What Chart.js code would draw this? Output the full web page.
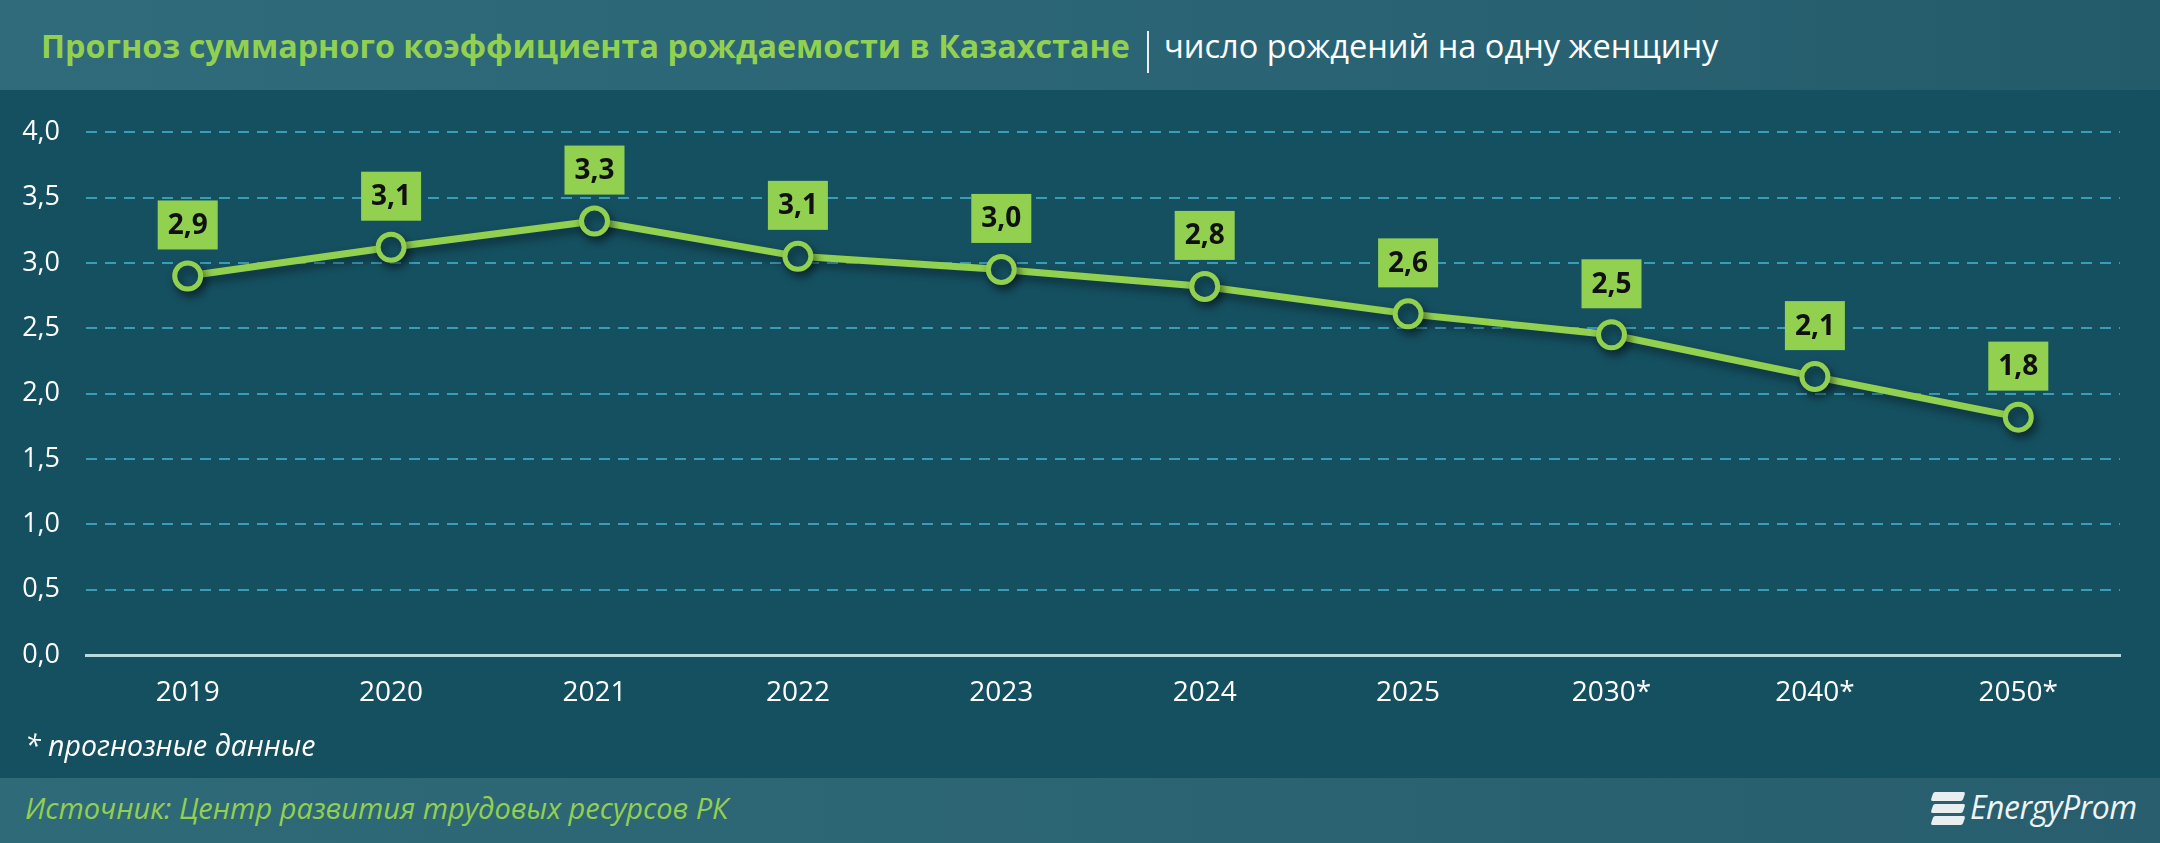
<!DOCTYPE html>
<html lang="ru">
<head>
<meta charset="utf-8">
<script src="https://cdn.jsdelivr.net/npm/chart.js@4.4.1/dist/chart.umd.min.js"></script>
<style>
  html, body { margin: 0; padding: 0; }
  body {
    width: 2160px; height: 843px; position: relative; overflow: hidden;
    background: #155060; font-family: 'Open Sans', sans-serif;
  }
  #head {
    position: absolute; left: 0; top: 0; width: 2160px; height: 90px;
    background: linear-gradient(90deg, #2f6b7b 0%, #2a6474 60%, #245b6b 100%);
  }
  #head .t {
    position: absolute; left: 41px; top: 0; height: 90px; line-height: 90px;
    white-space: nowrap;
  }
  #head .g { color: #92d050; font-weight: bold; font-size: 32.3px; }
  #head .sep { display: inline-block; width: 2px; height: 42px; background: #e8f0f2;
    vertical-align: middle; margin: 0 15px 0 17px; position: relative; top: -2px; }
  #head .w { color: #ffffff; font-size: 32.6px; }
  #chart { position: absolute; left: 0; top: 90px; }
  #note {
    position: absolute; left: 25px; top: 727px; font-size: 28.5px; font-style: italic;
    color: #ffffff; white-space: nowrap; line-height: 36px;
  }
  #foot {
    position: absolute; left: 0; top: 778px; width: 2160px; height: 65px;
    background: linear-gradient(90deg, #2f6a79 0%, #2b6372 60%, #285e6e 100%);
  }
  #foot .src {
    position: absolute; left: 25px; top: 0; line-height: 60px; font-size: 29px;
    font-style: italic; color: #92d050; white-space: nowrap;
  }
  #logo { position: absolute; left: 1928px; top: 10px; height: 42px; width: 220px; }
  #logo .bar { position: absolute; left: 4px; width: 32px; height: 9px; background: #e9eff1;
    transform: skewX(-18deg); border-radius: 2px; }
  #logo .name { position: absolute; left: 42px; top: -4px; font-size: 32px; font-style: italic;
    color: #eef3f4; line-height: 46px; letter-spacing: -0.5px; }
</style>
</head>
<body>
<div id="head">
  <div class="t"><span class="g">Прогноз суммарного коэффициента рождаемости в Казахстане</span><span class="sep"></span><span class="w">число рождений на одну женщину</span></div>
</div>

<canvas id="chart" width="2160" height="688"></canvas>

<div id="note">* прогнозные данные</div>

<div id="foot">
  <div class="src">Источник: Центр развития трудовых ресурсов РК</div>
  <div id="logo">
    <div class="bar" style="top:4px"></div>
    <div class="bar" style="top:16px"></div>
    <div class="bar" style="top:28px"></div>
    <div class="name">EnergyProm</div>
  </div>
</div>

<script>
// --- данные графика ---
const years = ['2019', '2020', '2021', '2022', '2023', '2024', '2025', '2030*', '2040*', '2050*'];
const fertility = [2.90, 3.12, 3.32, 3.05, 2.95, 2.82, 2.61, 2.45, 2.13, 1.82];
const valueLabels = ['2,9', '3,1', '3,3', '3,1', '3,0', '2,8', '2,6', '2,5', '2,1', '1,8'];
const yMin = 0;
const yMax = 4;
const yStep = 0.5;

const GREEN = '#92d050';
const BG = '#155060';

// тень под линией и точками
const lineShadow = {
    id: 'lineShadow',
    beforeDatasetDraw(chart) {
        const c = chart.ctx;
        c.save();
        c.shadowColor = 'rgba(0, 0, 0, 0.45)';
        c.shadowBlur = 10;
        c.shadowOffsetX = 3;
        c.shadowOffsetY = 5;
    },
    afterDatasetDraw(chart) {
        chart.ctx.restore();
    }
};

// зелёные плашки со значениями над точками
const boxLabels = {
    id: 'boxLabels',
    afterDatasetsDraw(chart) {
        const c = chart.ctx;
        const meta = chart.getDatasetMeta(0);
        c.save();
        c.font = "bold 28px 'Open Sans'";
        c.textAlign = 'center';
        c.textBaseline = 'middle';
        meta.data.forEach((pt, i) => {
            const cx = pt.x;
            const cy = pt.y - 51;
            c.fillStyle = GREEN;
            c.fillRect(cx - 30, cy - 24.5, 60, 49);
            c.fillStyle = '#111111';
            c.fillText(valueLabels[i], cx, cy + 1);
        });
        c.restore();
    }
};

new Chart(document.getElementById('chart'), {
    type: 'line',
    data: {
        labels: years,
        datasets: [{
            data: fertility,
            borderColor: GREEN,
            borderWidth: 7,
            pointRadius: 13,
            pointHoverRadius: 13,
            pointBorderWidth: 5,
            pointBackgroundColor: BG,
            pointBorderColor: GREEN,
            tension: 0,
            clip: false
        }]
    },
    options: {
        responsive: false,
        devicePixelRatio: 1,
        animation: false,
        layout: { padding: { top: 38, right: 40, left: 0, bottom: 0 } },
        plugins: {
            legend: { display: false },
            tooltip: { enabled: false }
        },
        scales: {
            x: {
                offset: true,
                grid: { display: false, drawTicks: false },
                border: { display: true, color: '#b9d9e0', width: 3 },
                ticks: {
                    color: '#ffffff',
                    font: { family: "'Open Sans'", size: 28 },
                    padding: 21,
                    maxRotation: 0
                },
                afterFit: (s) => { s.height = 123; }
            },
            y: {
                min: yMin,
                max: yMax,
                grid: {
                    color: (ctx) => (ctx.tick && ctx.tick.value === 0 ? 'rgba(0,0,0,0)' : '#3a9db7'),
                    lineWidth: 2,
                    drawTicks: false
                },
                border: { display: false, dash: [11, 8] },
                ticks: {
                    stepSize: yStep,
                    color: '#ffffff',
                    font: { family: "'Open Sans'", size: 27 },
                    padding: 26,
                    callback: (v) => Number(v).toFixed(1).replace('.', ',')
                },
                afterFit: (s) => { s.width = 86; }
            }
        }
    },
    plugins: [lineShadow, boxLabels]
});
</script>
</body>
</html>
